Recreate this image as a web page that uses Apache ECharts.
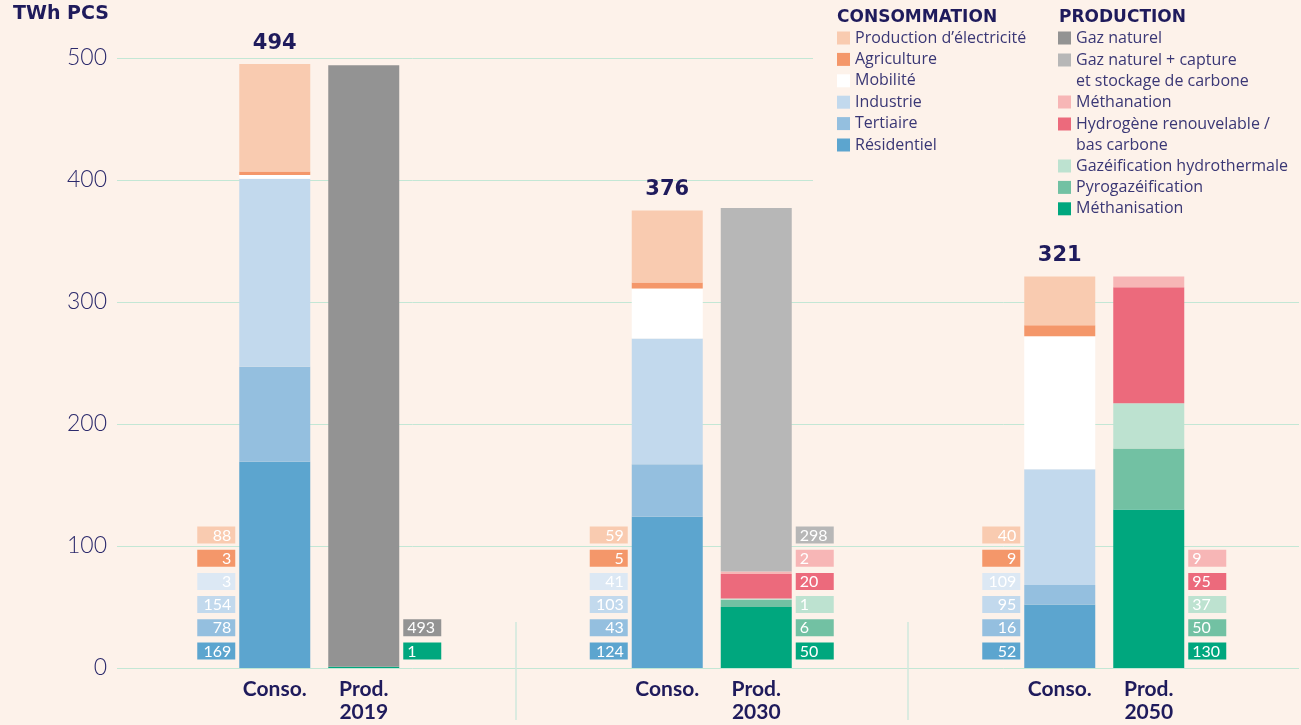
<!DOCTYPE html>
<html>
<head>
<meta charset="utf-8">
<script src="https://cdn.jsdelivr.net/npm/echarts@6/dist/echarts.min.js"></script>
<style>
  html, body { margin: 0; padding: 0; background: #fdf2ea; }
  #chart { width: 1301px; height: 725px; }
</style>
</head>
<body>
<div id="chart"></div>
<script>
// ---------- DATA ----------
const categories = ['2019', '2030', '2050'];
const barLabels = ['Conso.', 'Prod.'];
const yTicks = [0, 100, 200, 300, 400, 500];
const separatorPositions = [1, 2];   // category boundaries between the three groups
const unitTitle = 'TWh PCS';
const consoTitle = 'CONSOMMATION';
const prodTitle = 'PRODUCTION';

// Consommation (bottom -> top)
const residentiel   = [169, 124, 52];
const tertiaire     = [78, 43, 16];
const industrie     = [154, 103, 95];
const mobilite      = [3, 41, 109];
const agriculture   = [3, 5, 9];
const prodElec      = [88, 59, 40];
const consoTotals   = [494, 376, 321];

// Production (bottom -> top)
const methanisation = [1, 50, 130];
const pyrogaz       = [0, 6, 50];
const gazHydro      = [0, 1, 37];
const hydrogene     = [0, 20, 95];
const methanation   = [0, 2, 9];
const gazCCS        = [0, 298, 0];
const gazNaturel    = [493, 0, 0];

// ---------- STYLES ----------
const BG = '#fdf2ea';
const NAVY = '#1f1b5c';
const TXT = '#3a3775';
const GRID = '#c3e7d5';

const consoSeries = [
  { name: 'Résidentiel', data: residentiel, color: '#5ca5cf', labelColor: '#5ca5cf' },
  { name: 'Tertiaire', data: tertiaire, color: '#94bfdf', labelColor: '#94bfdf' },
  { name: 'Industrie', data: industrie, color: '#c2d9ed', labelColor: '#c2d9ed' },
  { name: 'Mobilité', data: mobilite, color: '#ffffff', labelColor: '#dce8f4' },
  { name: 'Agriculture', data: agriculture, color: '#f4976a', labelColor: '#f4976a' },
  { name: 'Production d’électricité', data: prodElec, color: '#f9cbb0', labelColor: '#f9cbb0' }
];
const prodSeries = [
  { name: 'Méthanisation', data: methanisation, color: '#00a77e' },
  { name: 'Pyrogazéification', data: pyrogaz, color: '#72c1a3' },
  { name: 'Gazéification hydrothermale', data: gazHydro, color: '#bde2d0' },
  { name: 'Hydrogène renouvelable /\nbas carbone', data: hydrogene, color: '#ec6a7c' },
  { name: 'Méthanation', data: methanation, color: '#f7b6b6' },
  { name: 'Gaz naturel + capture\net stockage de carbone', data: gazCCS, color: '#b7b7b7' },
  { name: 'Gaz naturel', data: gazNaturel, color: '#939393' }
];

// ---------- LABEL BOXES (built from the arrays) ----------
const boxData = [];
const boxColors = [];
categories.forEach((c, ci) => {
  consoSeries.forEach((s, k) => {
    boxData.push([ci, k, s.data[ci], 0]);
    boxColors.push(s.labelColor);
  });
  let slot = 0;
  prodSeries.forEach((s) => {
    if (s.data[ci] > 0) {
      boxData.push([ci, slot, s.data[ci], 1]);
      boxColors.push(s.color);
      slot++;
    }
  });
});

const BAR_W = 71;
const BAR_GAP = 18;
const GRID_LEFT = 123;
const BAND = 392.5;

const series = [];
consoSeries.forEach((s, i) => {
  const ser = {
    name: s.name, type: 'bar', stack: 'conso', xAxisIndex: 0, yAxisIndex: 0,
    data: s.data, barWidth: BAR_W, barGap: (BAR_GAP / BAR_W * 100) + '%',
    itemStyle: { color: s.color }, emphasis: { disabled: true }
  };
  if (i === consoSeries.length - 1) {
    ser.label = {
      show: true, position: 'top', distance: 10,
      formatter: (p) => String(consoTotals[p.dataIndex]),
      fontFamily: 'DejaVu Sans', fontWeight: 'bold', fontSize: 21, color: NAVY
    };
  }
  series.push(ser);
});
prodSeries.forEach((s) => {
  series.push({
    name: s.name, type: 'bar', stack: 'prod', xAxisIndex: 0, yAxisIndex: 0,
    data: s.data, barWidth: BAR_W, barGap: (BAR_GAP / BAR_W * 100) + '%',
    itemStyle: { color: s.color }, emphasis: { disabled: true }
  });
});
series.push({
  type: 'custom', xAxisIndex: 0, yAxisIndex: 0, silent: true, z: 5,
  data: boxData,
  encode: { x: 0, y: 1 },
  renderItem: function (params, api) {
    const ci = api.value(0), slot = api.value(1), val = api.value(2), side = api.value(3);
    const base = api.coord([ci, 0]);
    const cx = base[0], y0 = base[1];
    const bw = 38, bh = 17, step = 23.2;
    const half = BAR_W + BAR_GAP / 2 + 4;   // distance from band centre to box edge
    const yc = y0 - 17 - step * slot;
    const x = side === 0 ? cx - half - bw : cx + half;
    return {
      type: 'group',
      children: [
        { type: 'rect', shape: { x: x, y: yc - bh / 2, width: bw, height: bh },
          style: { fill: boxColors[params.dataIndex] } },
        { type: 'text', style: {
            text: String(val), x: side === 0 ? x + bw - 4 : x + 4, y: yc + 0.5,
            align: side === 0 ? 'right' : 'left', verticalAlign: 'middle',
            fill: '#ffffff', font: '16px Lato' } }
      ]
    };
  }
});

const legendBase = {
  orient: 'vertical', padding: 0, itemWidth: 13, itemHeight: 13, itemGap: 0,
  icon: 'rect', selectedMode: false,
  textStyle: { fontFamily: 'Open Sans', fontSize: 16, color: TXT, lineHeight: 21.4 }
};
const twoLineIcon = 'path://M0,0L13,0L13,13L0,13Z M0,34.39L0.01,34.39L0.01,34.4L0,34.4Z';

const option = {
  backgroundColor: BG,
  animation: false,
  textStyle: { fontFamily: 'Lato' },
  title: [
    { text: unitTitle, left: 13, top: 5, padding: 0,
      textStyle: { fontFamily: 'DejaVu Sans', fontWeight: 'bold', fontSize: 19, color: NAVY } },
    { text: consoTitle, left: 837, top: 9, padding: 0,
      textStyle: { fontFamily: 'DejaVu Sans', fontWeight: 'bold', fontSize: 17, color: NAVY } },
    { text: prodTitle, left: 1059, top: 9, padding: 0,
      textStyle: { fontFamily: 'DejaVu Sans', fontWeight: 'bold', fontSize: 17, color: NAVY } }
  ],
  legend: [
    Object.assign({}, legendBase, { left: 837, top: 27.3,
      data: consoSeries.slice().reverse().map(s => s.name) }),
    Object.assign({}, legendBase, { left: 1058, top: 27.3, data: ['Gaz naturel'] }),
    Object.assign({}, legendBase, { left: 1058, top: 49.3, itemHeight: 34.4,
      data: [{ name: 'Gaz naturel + capture\net stockage de carbone', icon: twoLineIcon }] }),
    Object.assign({}, legendBase, { left: 1058, top: 91.3, data: ['Méthanation'] }),
    Object.assign({}, legendBase, { left: 1058, top: 113.3, itemHeight: 34.4,
      data: [{ name: 'Hydrogène renouvelable /\nbas carbone', icon: twoLineIcon }] }),
    Object.assign({}, legendBase, { left: 1058, top: 155.3,
      data: ['Gazéification hydrothermale', 'Pyrogazéification', 'Méthanisation'] })
  ],
  graphic: [
    { type: 'rect', left: 813, top: 0, shape: { width: 488, height: 230 },
      style: { fill: BG }, z: 1, silent: true }
  ],
  grid: [
    { left: GRID_LEFT, top: 58, width: BAND * 3, height: 610 },
    { left: 117, top: 58, width: 1182, height: 610 },
    { left: GRID_LEFT + BAND, top: 622, width: BAND, height: 98 }
  ],
  xAxis: [
    { gridIndex: 0, type: 'category', data: categories,
      axisLine: { show: false }, axisTick: { show: false }, splitLine: { show: false },
      axisLabel: {
        margin: 10, interval: 0,
        formatter: (v) => '{c|' + barLabels[0] + '}{p|' + barLabels[1] + '}\n{e| }{p|' + v + '}',
        rich: {
          c: { width: 89, align: 'center', fontFamily: 'Lato', fontWeight: 'bold', fontSize: 21, color: NAVY, lineHeight: 23 },
          p: { width: 89, align: 'center', fontFamily: 'Lato', fontWeight: 'bold', fontSize: 21, color: NAVY, lineHeight: 23 },
          e: { width: 89, align: 'center', fontSize: 21, lineHeight: 23 }
        }
      } },
    { gridIndex: 1, type: 'value', min: 0, max: 1, show: false },
    { gridIndex: 2, type: 'value', min: separatorPositions[0], max: separatorPositions[1], interval: 1,
      axisLine: { show: false }, axisTick: { show: false }, axisLabel: { show: false },
      splitLine: { show: true, lineStyle: { color: '#cfe9dc', width: 1.5 } } }
  ],
  yAxis: [
    { gridIndex: 0, type: 'value', min: 0, max: 500, show: false },
    { gridIndex: 1, type: 'value', min: 0, max: 500, interval: 100,
      axisLine: { show: false }, axisTick: { show: false },
      axisLabel: { margin: 10, fontFamily: 'Lato', fontSize: 23, fontWeight: 300, color: '#2c2a6c',
        formatter: (v) => yTicks.includes(v) ? String(v) : '' },
      splitLine: { lineStyle: { color: GRID, width: 1 } } },
    { gridIndex: 2, type: 'value', min: 0, max: 1, show: false }
  ],
  series: series
};

const chart = echarts.init(document.getElementById('chart'), null, { renderer: 'canvas' });
chart.setOption(option);
</script>
</body>
</html>
